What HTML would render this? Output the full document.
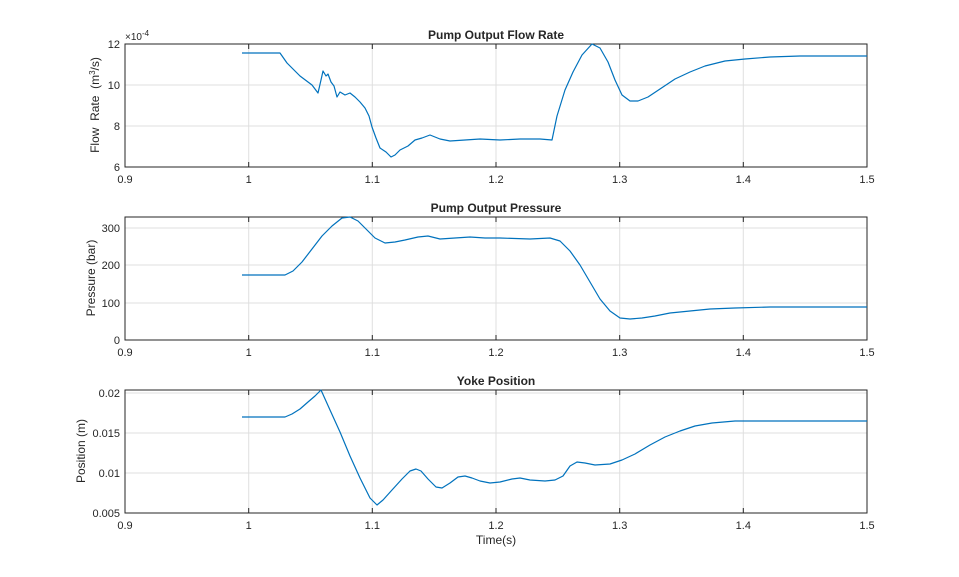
<!DOCTYPE html>
<html><head><style>body{margin:0;background:#fff}svg{display:block}text{font-family:"Liberation Sans",sans-serif;fill:#262626}</style></head><body>
<svg width="959" height="577" viewBox="0 0 959 577" xmlns="http://www.w3.org/2000/svg">
<rect width="959" height="577" fill="#fff"/>
<g stroke="#dfdfdf" stroke-width="1">
<path d="M248.7 44V167M372.3 44V167M496 44V167M619.7 44V167M743.3 44V167M125 85H867M125 126H867"/>
<path d="M248.7 217V340M372.3 217V340M496 217V340M619.7 217V340M743.3 217V340M125 303H867M125 265H867M125 228H867"/>
<path d="M248.7 390V513M372.3 390V513M496 390V513M619.7 390V513M743.3 390V513M125 393H867M125 433H867M125 473H867"/>
</g>
<g fill="none" stroke="#262626" stroke-width="1">
<rect x="125" y="44" width="742" height="123"/>
<rect x="125" y="217" width="742" height="123"/>
<rect x="125" y="390" width="742" height="123"/>
<path d="M248.7 167v-5M372.3 167v-5M496 167v-5M619.7 167v-5M743.3 167v-5M248.7 44v5M372.3 44v5M496 44v5M619.7 44v5M743.3 44v5"/>
<path d="M248.7 340v-5M372.3 340v-5M496 340v-5M619.7 340v-5M743.3 340v-5M248.7 217v5M372.3 217v5M496 217v5M619.7 217v5M743.3 217v5"/>
<path d="M248.7 513v-5M372.3 513v-5M496 513v-5M619.7 513v-5M743.3 513v-5M248.7 390v5M372.3 390v5M496 390v5M619.7 390v5M743.3 390v5"/>
</g>
<g fill="none" stroke="#0072bd" stroke-width="1.2" stroke-linejoin="round">
<polyline points="242,53 280,53 287,63 300,76 312,85 318,93 321,80 323,71 326,76 328,74 331,82 334,86 337,97 340,92 345,95 350,93 355,97 360,102 365,108 369,116 372,127 376,138 380,148 386,152 391,157 395,155 400,150 408,146 415,140 422,138 430,135 440,139 450,141 465,140 480,139 500,140 520,139 540,139 552,140 557,116 565,90 573,72 582,55 592,44 600,48 608,62 615,80 622,95 630,101 638,101 648,97 660,89 675,79 690,72 705,66 725,61 745,59 770,57 800,56 867,56"/>
<polyline points="242,275 285,275 293,271 302,262 312,249 322,236 332,226 342,218 350,217 358,221 366,229 375,238 385,243 395,242 405,240 418,237 428,236 440,239 455,238 470,237 485,238 500,238 530,239 550,238 560,241 570,251 580,265 590,282 600,299 610,311 620,318 630,319 642,318 655,316 670,313 690,311 710,309 735,308 770,307 867,307"/>
<polyline points="242,417 285,417 292,414 300,409 308,402 315,396 321,390 330,410 340,432 350,456 360,478 370,498 377,505 383,500 392,490 402,479 410,471 416,469 421,471 428,479 436,487 442,488 450,483 458,477 465,476 472,478 480,481 490,483 500,482 512,479 520,478 530,480 545,481 555,480 563,476 570,466 577,462 585,463 595,465 610,464 622,460 635,454 650,445 665,437 680,431 695,426 712,423 735,421 760,421 867,421"/>
</g>
<g font-size="11" text-anchor="middle">
<text x="125" y="183">0.9</text><text x="248.7" y="183">1</text><text x="372.3" y="183">1.1</text><text x="496" y="183">1.2</text><text x="619.7" y="183">1.3</text><text x="743.3" y="183">1.4</text><text x="867" y="183">1.5</text>
<text x="125" y="356">0.9</text><text x="248.7" y="356">1</text><text x="372.3" y="356">1.1</text><text x="496" y="356">1.2</text><text x="619.7" y="356">1.3</text><text x="743.3" y="356">1.4</text><text x="867" y="356">1.5</text>
<text x="125" y="529">0.9</text><text x="248.7" y="529">1</text><text x="372.3" y="529">1.1</text><text x="496" y="529">1.2</text><text x="619.7" y="529">1.3</text><text x="743.3" y="529">1.4</text><text x="867" y="529">1.5</text>
</g>
<g font-size="11" text-anchor="end">
<text x="120" y="48">12</text><text x="120" y="89">10</text><text x="120" y="130">8</text><text x="120" y="171">6</text>
<text x="120" y="232">300</text><text x="120" y="269">200</text><text x="120" y="307">100</text><text x="120" y="344">0</text>
<text x="120" y="397">0.02</text><text x="120" y="437">0.015</text><text x="120" y="477">0.01</text><text x="120" y="517">0.005</text>
</g>
<text x="125" y="40" font-size="10">×10<tspan dy="-4" font-size="8">-4</tspan></text>
<g font-size="12" font-weight="bold" text-anchor="middle">
<text x="496" y="39">Pump Output Flow Rate</text>
<text x="496" y="212">Pump Output Pressure</text>
<text x="496" y="385">Yoke Position</text>
</g>
<g font-size="12" text-anchor="middle">
<text transform="translate(99,105) rotate(-90)">Flow&#160;&#160;Rate&#160;&#160;(m<tspan dy="-4" font-size="8">3</tspan><tspan dy="4">/s)</tspan></text>
<text transform="translate(95,278) rotate(-90)">Pressure (bar)</text>
<text transform="translate(85,451) rotate(-90)">Position (m)</text>
<text x="496" y="544">Time(s)</text>
</g>
</svg>
</body></html>
